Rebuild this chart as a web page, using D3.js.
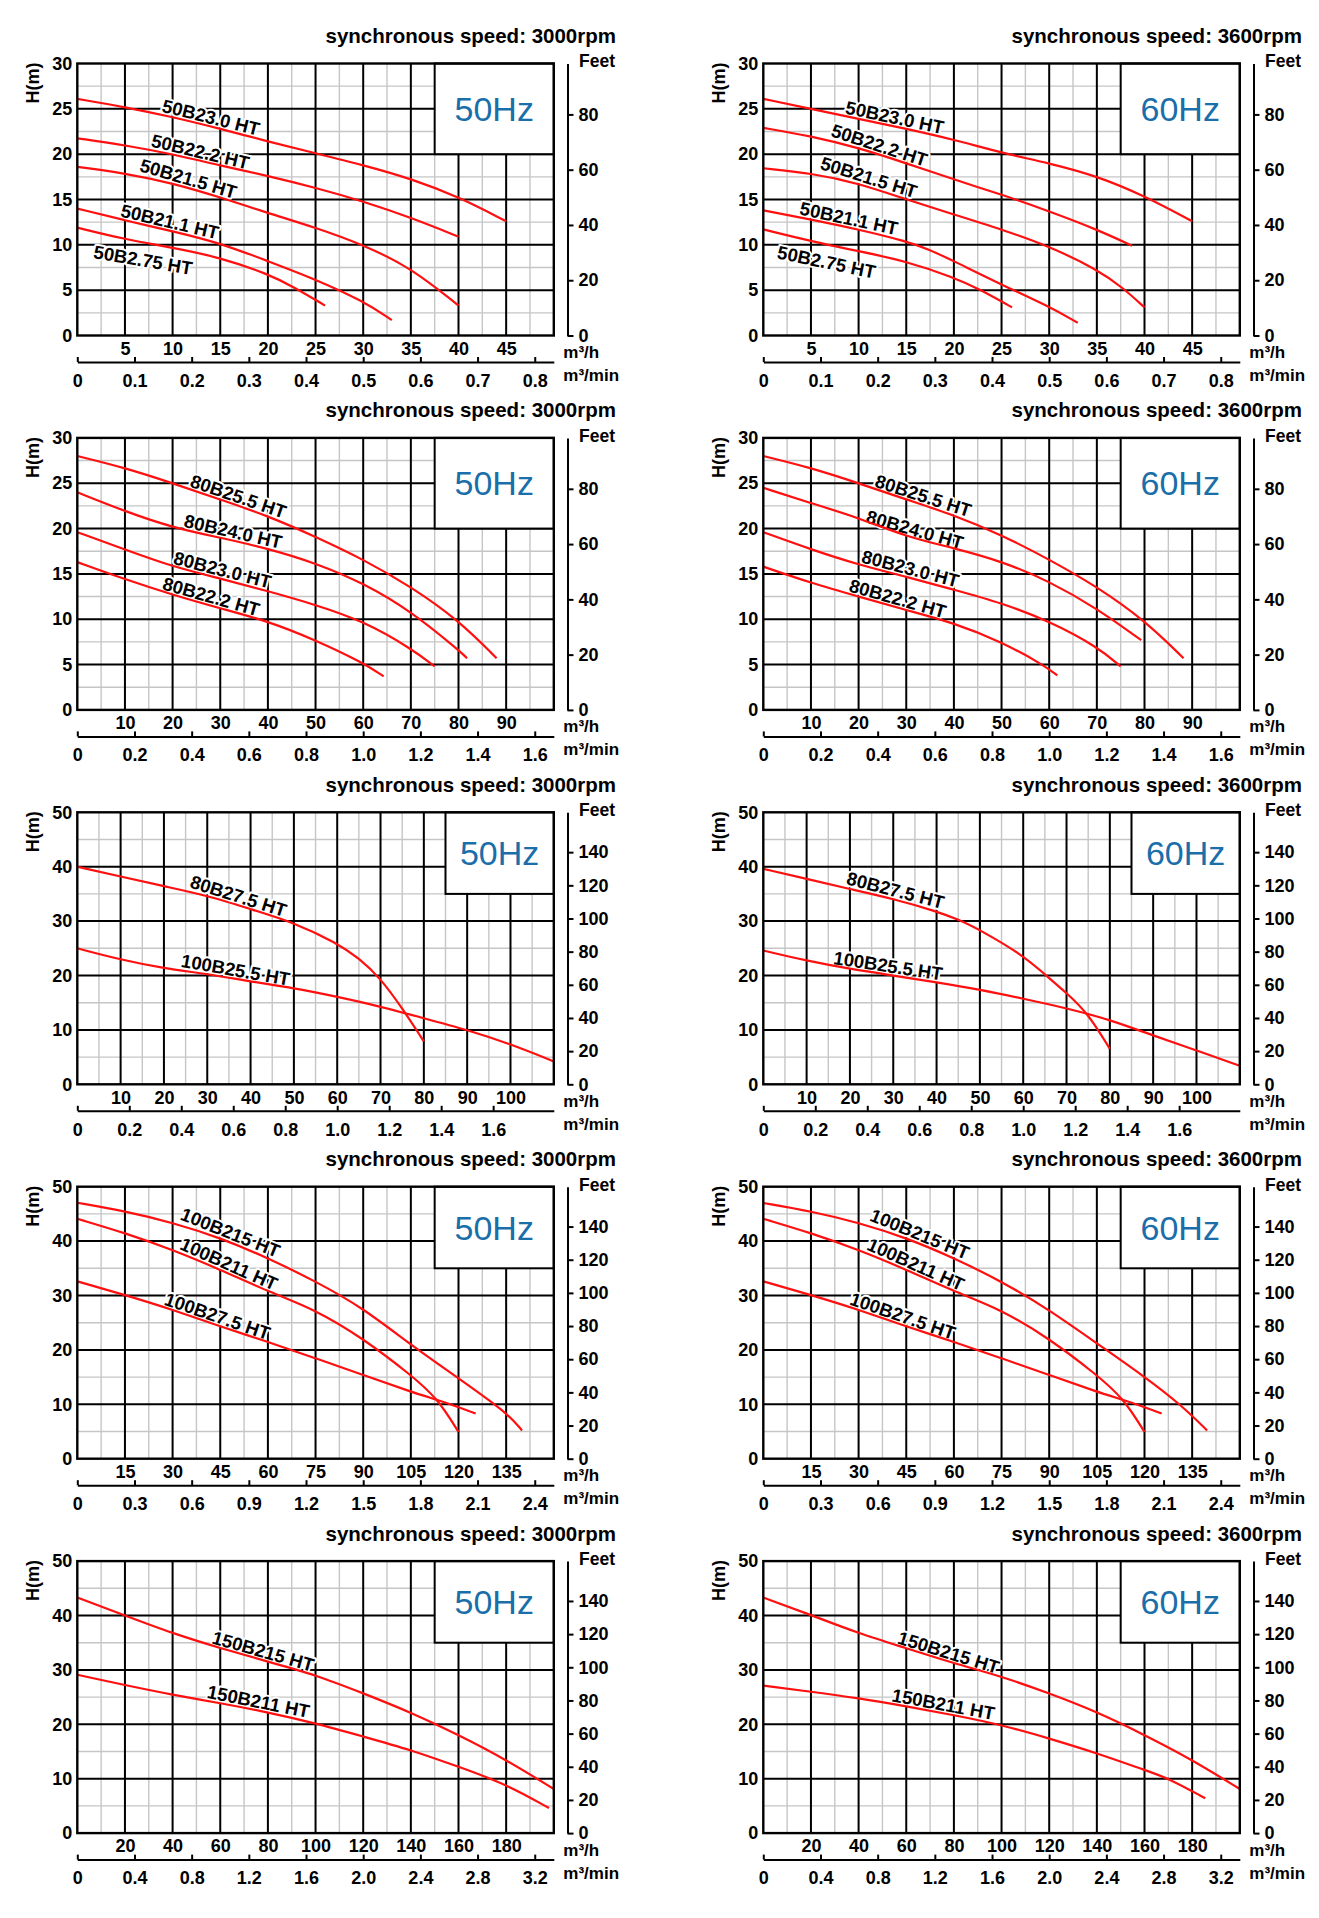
<!DOCTYPE html>
<html><head><meta charset="utf-8">
<script src="https://cdn.jsdelivr.net/npm/d3@7"></script>
<style>
html,body{margin:0;padding:0;background:#fff;}
svg text{font-family:"Liberation Sans",Arial,Helvetica,sans-serif;}
</style></head><body>
<svg id="chart" width="1319" height="1918"></svg>
<script>
// ---------------- DATA ----------------
const freqNames = ["50Hz", "60Hz"];
const speedTitles = ["synchronous speed: 3000rpm", "synchronous speed: 3600rpm"];

// axis ranges per row (flow m3/h, head m)
const flowMax = [50, 100, 110, 150, 200];
const headMax = [30, 30, 50, 50, 50];
const flowMajor = [5, 10, 10, 15, 20];
const headMajor = [5, 5, 10, 10, 10];

// tick labels per row
const flowTicks = [
  [5, 10, 15, 20, 25, 30, 35, 40, 45],
  [10, 20, 30, 40, 50, 60, 70, 80, 90],
  [10, 20, 30, 40, 50, 60, 70, 80, 90, 100],
  [15, 30, 45, 60, 75, 90, 105, 120, 135],
  [20, 40, 60, 80, 100, 120, 140, 160, 180]
];
const minTicks = [
  [0, 0.1, 0.2, 0.3, 0.4, 0.5, 0.6, 0.7, 0.8],
  [0, 0.2, 0.4, 0.6, 0.8, 1.0, 1.2, 1.4, 1.6],
  [0, 0.2, 0.4, 0.6, 0.8, 1.0, 1.2, 1.4, 1.6],
  [0, 0.3, 0.6, 0.9, 1.2, 1.5, 1.8, 2.1, 2.4],
  [0, 0.4, 0.8, 1.2, 1.6, 2.0, 2.4, 2.8, 3.2]
];
const headTicks = [
  [0, 5, 10, 15, 20, 25, 30],
  [0, 5, 10, 15, 20, 25, 30],
  [0, 10, 20, 30, 40, 50],
  [0, 10, 20, 30, 40, 50],
  [0, 10, 20, 30, 40, 50]
];
const feetTicks = [
  [0, 20, 40, 60, 80],
  [0, 20, 40, 60, 80],
  [0, 20, 40, 60, 80, 100, 120, 140],
  [0, 20, 40, 60, 80, 100, 120, 140],
  [0, 20, 40, 60, 80, 100, 120, 140]
];
// corner of the frequency box (flow, head)
const boxCorner = [[37.5, 20], [75, 20], [85, 35], [112.5, 35], [150, 35]];

// model names per row
const names1 = ["50B23.0 HT", "50B22.2 HT", "50B21.5 HT", "50B21.1 HT", "50B2.75 HT"];
const names2 = ["80B25.5 HT", "80B24.0 HT", "80B23.0 HT", "80B22.2 HT"];
const names3 = ["80B27.5 HT", "100B25.5 HT"];
const names4 = ["100B215 HT", "100B211 HT", "100B27.5 HT"];
const names5 = ["150B215 HT", "150B211 HT"];

// ---- row 1 curves [flow m3/h, head m]
const c1a50 = [[0,26.1],[5,25.2],[10,24.1],[15,22.8],[20,21.4],[25,20.1],[30,18.8],[35,17.3],[40,15.3],[45,12.6]];
const c1b50 = [[0,21.75],[5,21.0],[10,20.0],[15,18.75],[20,17.6],[25,16.3],[30,14.8],[35,13.0],[40,10.9]];
const c1c50 = [[0,18.6],[5,17.9],[10,16.8],[15,15.25],[20,13.5],[25,11.9],[30,10.0],[35,7.5],[40,3.3]];
const c1d50 = [[0,14.0],[5,12.7],[10,11.5],[15,10.2],[20,8.2],[25,6.2],[30,3.8],[33,1.7]];
const c1e50 = [[0,11.9],[5,10.6],[10,9.7],[15,8.6],[20,6.8],[22.8,5.3],[26,3.3]];
const c1a60 = [[0,26.1],[5,25.0],[10,23.9],[15,22.8],[20,21.6],[25,20.15],[30,19.0],[35,17.6],[40,15.4],[45,12.6]];
const c1b60 = [[0,22.9],[5,22.0],[10,20.7],[15,19.0],[20,17.2],[25,15.55],[30,13.7],[35,11.7],[38.7,9.9]];
const c1c60 = [[0,18.45],[5,17.9],[10,16.8],[15,15.0],[20,13.35],[25,11.7],[30,9.85],[35,7.3],[37.7,5.3],[40,3.1]];
const c1d60 = [[0,13.8],[5,12.8],[10,11.7],[15,10.4],[17.4,9.5],[20,8.2],[25,5.6],[30,3.2],[33,1.4]];
const c1e60 = [[0,11.7],[5,10.4],[10,9.3],[15,8.2],[20,6.4],[22.7,5.1],[26.1,3.1]];
// ---- row 2
const c2a50 = [[0,28.0],[10,26.7],[20,25.0],[30,23.2],[40,21.4],[50,19.1],[60,16.6],[70,13.6],[80,9.9],[88,5.7]];
const c2b50 = [[0,24.0],[10,21.9],[20,20.1],[30,19.0],[40,17.8],[50,16.2],[60,14.0],[70,10.9],[80,6.6],[81.8,5.7]];
const c2c50 = [[0,19.6],[10,17.7],[20,15.8],[30,14.5],[40,13.1],[50,11.6],[60,9.8],[70,6.8],[75,4.8]];
const c2d50 = [[0,16.3],[10,14.4],[20,12.7],[30,11.2],[40,9.8],[50,7.7],[60,5.2],[64.3,3.7]];
const c2a60 = [[0,28.0],[10,26.7],[20,25.0],[30,23.2],[40,21.5],[50,19.3],[60,16.6],[70,13.6],[80,9.9],[88.2,5.7]];
const c2b60 = [[0,24.5],[10,22.8],[20,21.2],[30,19.1],[40,17.85],[50,16.4],[60,14.2],[70,11.2],[79.3,7.7]];
const c2c60 = [[0,19.6],[10,17.7],[20,16.0],[30,14.7],[40,13.25],[50,11.8],[60,9.8],[70,7.0],[75,4.8]];
const c2d60 = [[0,15.8],[10,14.0],[20,12.5],[30,11.0],[40,9.6],[50,7.5],[58.7,5.0],[61.7,3.8]];
// ---- row 3
const c3a50 = [[0,40.0],[10,38.2],[20,36.4],[30,34.7],[40,32.2],[50,29.75],[60,25.95],[65,23.2],[70,19.5],[75,14.0],[80,7.9]];
const c3b50 = [[0,25.0],[10,22.9],[20,21.3],[30,20.3],[40,18.9],[50,17.7],[60,16.1],[70,14.3],[80,12.15],[90,10.0],[100,7.4],[110,4.2]];
const c3a60 = [[0,39.6],[10,37.75],[20,35.9],[30,34.1],[40,31.8],[45,30.3],[50,28.4],[60,23.7],[65,20.2],[70,16.8],[75,13.0],[80,6.5]];
const c3b60 = [[0,24.6],[10,22.7],[20,21.2],[30,20.0],[40,18.75],[50,17.4],[60,15.75],[70,14.0],[80,11.9],[90,8.95],[100,6.25],[110,3.4]];
// ---- row 4
const c4a50 = [[0,47.05],[15,45.5],[30,43.4],[45,40.6],[60,36.9],[75,32.6],[90,27.7],[105,20.9],[120,14.8],[135,8.6],[140,5.2]];
const c4b50 = [[0,44.1],[15,41.5],[30,38.4],[45,34.75],[60,30.75],[75,27.4],[90,22.1],[105,15.4],[113.4,11.1],[120,4.9]];
const c4c50 = [[0,32.6],[15,30.1],[30,27.4],[45,24.3],[60,21.5],[75,18.45],[90,15.4],[105,12.3],[113.4,10.8],[120,9.5],[125.4,8.3]];
const c4a60 = [[0,47.0],[15,45.5],[30,43.4],[45,40.6],[60,36.9],[75,32.6],[90,27.4],[105,21.2],[120,15.1],[131.7,9.8],[139.7,5.2]];
const c4b60 = [[0,44.1],[15,41.5],[30,38.4],[45,34.75],[60,30.75],[75,27.4],[90,22.1],[105,15.4],[113.4,11.1],[120,4.9]];
const c4c60 = [[0,32.6],[15,30.1],[30,27.4],[45,24.3],[60,21.5],[75,18.45],[90,15.4],[105,12.3],[113.4,10.8],[120,9.5],[125.4,8.3]];
// ---- row 5
const c5a50 = [[0,43.3],[20,40.0],[40,36.7],[60,34.0],[80,31.5],[100,29.1],[120,25.7],[140,22.2],[160,18.05],[180,13.5],[200,8.1]];
const c5b50 = [[0,29.1],[20,27.2],[40,25.4],[60,23.9],[80,22.2],[100,20.2],[120,17.75],[140,15.3],[160,12.2],[180,9.0],[198,4.6]];
const c5a60 = [[0,43.3],[20,40.1],[40,36.7],[60,34.0],[80,31.2],[100,28.8],[120,25.7],[140,22.3],[160,18.05],[180,13.5],[200,8.1]];
const c5b60 = [[0,27.1],[20,26.0],[40,24.8],[60,23.3],[80,21.7],[100,19.9],[120,17.4],[140,14.7],[160,11.6],[170,10.1],[185.5,6.4]];

// flow (m3/h) where each curve label sits, and which side of its curve (+ above, - below)
const lab1_50 = [13.8, 12.7, 11.4, 9.5, 7.2];
const lab1_60 = [13.6, 11.9, 10.8, 8.8, 7.0];
const lab2_50 = [33.2, 32.3, 30.0, 27.6];
const lab2_60 = [33.0, 31.3, 30.4, 27.7];
const lab3_50 = [36.6, 36.2];
const lab3_60 = [30.0, 28.5];
const lab4_50 = [47.2, 46.6, 43.2];
const lab4_60 = [48.2, 46.9, 43.0];
const lab5_50 = [77.0, 75.3];
const lab5_60 = [76.7, 74.9];
const side1 = [1, 1, 1, 1, -1.9];
const side2 = [1, 1, 1, 1];
const side3 = [1, 1];
const side4 = [1, 1, 1];
const side5 = [1, 1];

const rowNames = [names1, names2, names3, names4, names5];
const rowSides = [side1, side2, side3, side4, side5];
const rowCurves = [
  [[c1a50, c1b50, c1c50, c1d50, c1e50], [c1a60, c1b60, c1c60, c1d60, c1e60]],
  [[c2a50, c2b50, c2c50, c2d50], [c2a60, c2b60, c2c60, c2d60]],
  [[c3a50, c3b50], [c3a60, c3b60]],
  [[c4a50, c4b50, c4c50], [c4a60, c4b60, c4c60]],
  [[c5a50, c5b50], [c5a60, c5b60]]
];
const rowLabels = [[lab1_50, lab1_60], [lab2_50, lab2_60], [lab3_50, lab3_60], [lab4_50, lab4_60], [lab5_50, lab5_60]];

// ---------------- LAYOUT ----------------
const PL = 77.3, PW = 476.5, PH = 272, TOP = 63.5, PITCH = 374.4, COL = 686;
const FONT = '"Liberation Sans", Arial, Helvetica, sans-serif';
const RED = "#ff1010", BLUE = "#1a6ea9";

const svg = d3.select("#chart");

function hAt(pts, q) {
  if (q <= pts[0][0]) return pts[0][1];
  for (let i = 1; i < pts.length; i++) {
    if (q <= pts[i][0]) {
      const t = (q - pts[i-1][0]) / (pts[i][0] - pts[i-1][0]);
      return pts[i-1][1] + t * (pts[i][1] - pts[i-1][1]);
    }
  }
  return pts[pts.length-1][1];
}

function styleAxis(g, size) {
  g.attr("font-family", FONT).attr("font-size", size).attr("font-weight", "bold");
  g.selectAll("text").attr("fill", "#000");
}

function drawPanel(r, c) {
  const ox = PL + c * COL, oy = TOP + r * PITCH;
  const fm = flowMax[r], hm = headMax[r];
  const xs = d3.scaleLinear().domain([0, fm]).range([ox, ox + PW]);
  const ys = d3.scaleLinear().domain([0, hm]).range([oy + PH, oy]);
  const xm = d3.scaleLinear().domain([0, fm / 60]).range([ox, ox + PW]);
  const yf = d3.scaleLinear().domain([0, hm / 0.3048]).range([oy + PH, oy]);
  const g = svg.append("g");

  // grid
  const mx = flowMajor[r] / 2, my = headMajor[r] / 2;
  const minorX = d3.range(1, Math.round(fm / mx)).filter(k => k % 2 === 1).map(k => k * mx);
  const minorY = d3.range(1, Math.round(hm / my)).filter(k => k % 2 === 1).map(k => k * my);
  const majorX = d3.range(1, Math.ceil(fm / flowMajor[r] - 1e-9)).map(k => k * flowMajor[r]);
  const majorY = d3.range(1, Math.round(hm / headMajor[r])).map(k => k * headMajor[r]);

  g.selectAll(null).data(minorX).join("line")
    .attr("x1", d => xs(d)).attr("x2", d => xs(d)).attr("y1", ys(0)).attr("y2", ys(hm))
    .attr("stroke", "#c6c6c6").attr("stroke-width", 1.4);
  g.selectAll(null).data(minorY).join("line")
    .attr("y1", d => ys(d)).attr("y2", d => ys(d)).attr("x1", xs(0)).attr("x2", xs(fm))
    .attr("stroke", "#c6c6c6").attr("stroke-width", 1.4);
  g.selectAll(null).data(majorX).join("line")
    .attr("x1", d => xs(d)).attr("x2", d => xs(d)).attr("y1", ys(0)).attr("y2", ys(hm))
    .attr("stroke", "#000").attr("stroke-width", 2);
  g.selectAll(null).data(majorY).join("line")
    .attr("y1", d => ys(d)).attr("y2", d => ys(d)).attr("x1", xs(0)).attr("x2", xs(fm))
    .attr("stroke", "#000").attr("stroke-width", 2);

  // frequency box
  const [bx, by] = boxCorner[r];
  g.append("rect").attr("x", xs(bx)).attr("y", ys(hm))
    .attr("width", xs(fm) - xs(bx)).attr("height", ys(by) - ys(hm))
    .attr("fill", "#fff").attr("stroke", "#000").attr("stroke-width", 2);
  g.append("text").attr("x", (xs(bx) + xs(fm)) / 2).attr("y", (ys(by) + ys(hm)) / 2)
    .attr("dy", "0.36em").attr("text-anchor", "middle")
    .attr("font-family", FONT).attr("font-size", 34).attr("fill", BLUE)
    .text(freqNames[c]);

  // curve labels
  const curves = rowCurves[r][c], labs = rowLabels[r][c], nms = rowNames[r], sides = rowSides[r];
  curves.forEach((pts, i) => {
    const lx = labs[i], dq = fm * 0.03, off = 9 * sides[i];
    const x1 = xs(lx - dq), y1 = ys(hAt(pts, lx - dq)), x2 = xs(lx + dq), y2 = ys(hAt(pts, lx + dq));
    const ang = Math.atan2(y2 - y1, x2 - x1);
    const cx = xs(lx) + Math.sin(ang) * off, cy = ys(hAt(pts, lx)) - Math.cos(ang) * off;
    g.append("text")
      .attr("transform", `translate(${cx},${cy}) rotate(${ang * 180 / Math.PI})`)
      .attr("text-anchor", "middle").attr("dy", "0.36em")
      .attr("font-family", FONT).attr("font-size", 18.5).attr("font-weight", "bold")
      .attr("fill", "#000").attr("stroke", "#fff").attr("stroke-width", 4)
      .attr("paint-order", "stroke").attr("stroke-linejoin", "round")
      .text(nms[i]);
  });

  // curves
  const line = d3.line().x(d => xs(d[0])).y(d => ys(d[1])).curve(d3.curveBasis);
  g.selectAll(null).data(curves).join("path")
    .attr("d", line).attr("fill", "none").attr("stroke", RED).attr("stroke-width", 2.2);

  // border
  g.append("rect").attr("x", ox).attr("y", oy).attr("width", PW).attr("height", PH)
    .attr("fill", "none").attr("stroke", "#000").attr("stroke-width", 2.4);

  // left axis
  const ga = g.append("g").attr("transform", `translate(${ox},0)`)
    .call(d3.axisLeft(ys).tickValues(headTicks[r]).tickSize(0).tickPadding(5));
  ga.select(".domain").remove();
  styleAxis(ga, 18);

  // bottom m3/h
  const gb = g.append("g").attr("transform", `translate(0,${oy + PH})`)
    .call(d3.axisBottom(xs).tickValues(flowTicks[r]).tickSize(0).tickPadding(6.5).tickFormat(d3.format("d")));
  gb.select(".domain").remove();
  styleAxis(gb, 18);

  // bottom m3/min
  const gm = g.append("g").attr("transform", `translate(0,${oy + PH + 26.5})`)
    .call(d3.axisBottom(xm).tickValues(minTicks[r]).tickSizeInner(-5).tickSizeOuter(0).tickPadding(12)
      .tickFormat(d => d === 0 ? "0" : d3.format(".1f")(d)));
  gm.selectAll("path,line").attr("stroke", "#000").attr("stroke-width", 2);
  styleAxis(gm, 18);

  // right feet axis
  const gf = g.append("g").attr("transform", `translate(${ox + PW + 13.7},0)`)
    .call(d3.axisRight(yf).tickValues(feetTicks[r]).tickSizeInner(6).tickSizeOuter(0).tickPadding(5));
  gf.selectAll("path,line").attr("stroke", "#000").attr("stroke-width", 2);
  styleAxis(gf, 18);

  // texts
  const t = (x, y, s, size, anchor) => g.append("text").attr("x", x).attr("y", y)
    .attr("font-family", FONT).attr("font-size", size).attr("font-weight", "bold")
    .attr("text-anchor", anchor || "start").attr("fill", "#000").text(s);
  t(ox + 538.7, oy - 20.5, speedTitles[c], 20.5, "end");
  t(ox + 501.7, oy + 3.8, "Feet", 17.5);
  t(ox + PW + 9.5, oy + PH + 22.5, "m³/h", 17);
  t(ox + PW + 9.5, oy + PH + 45.5, "m³/min", 17);
  g.append("text").attr("transform", `translate(${ox - 38},${oy - 1}) rotate(-90)`)
    .attr("text-anchor", "end").attr("font-family", FONT).attr("font-size", 18)
    .attr("font-weight", "bold").attr("fill", "#000").text("H(m)");
}

for (let r = 0; r < 5; r++) for (let c = 0; c < 2; c++) drawPanel(r, c);
</script>
</body></html>
